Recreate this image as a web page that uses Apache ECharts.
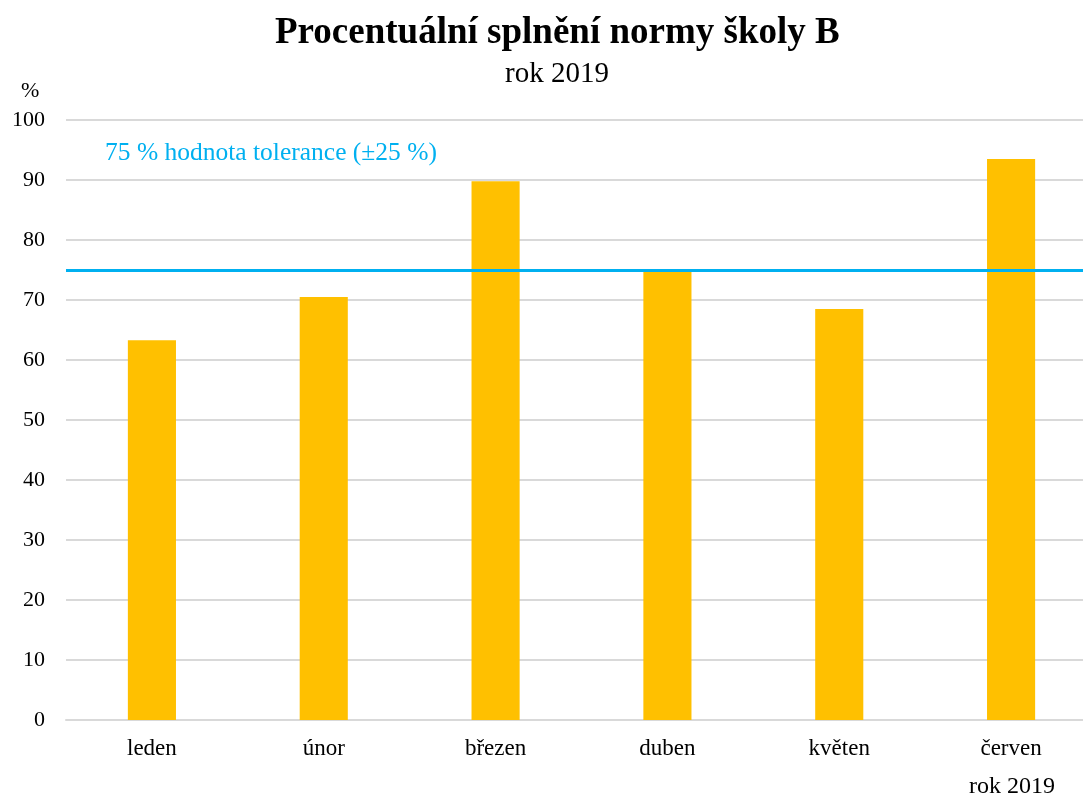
<!DOCTYPE html>
<html><head><meta charset="utf-8">
<script src="https://cdn.jsdelivr.net/npm/echarts@6/dist/echarts.min.js"></script>
<style>html,body{margin:0;padding:0;background:#fff}#c{width:1083px;height:798px}</style>
</head><body><div id="c"></div>
<script>
const categories = ['leden','únor','březen','duben','květen','červen'];
const values = [63.3, 70.5, 89.8, 74.8, 68.5, 93.5];
const tolerance = 75;
const toleranceLabel = '75 % hodnota tolerance (±25 %)';
const yTicks = {min:0, max:100, interval:10};

const font = 'Liberation Serif, Times New Roman, serif';
const chart = echarts.init(document.getElementById('c'));
chart.setOption({
  animation:false,
  title:[{text:'Procentuální splnění normy školy B', left:270, top:10,
    textStyle:{fontFamily:font, fontSize:37, fontWeight:'bold', color:'#000'}},
    {text:'rok 2019', left:500, top:55, textStyle:{fontFamily:font, fontSize:29, fontWeight:'normal', color:'#000'}}],
  graphic:[{type:'text', left:105, top:140, style:{text:toleranceLabel, fill:'#00B0F0', font:'25.5px '+font}},
           {type:'text', left:21, top:80, style:{text:'%', fill:'#000', font:'22px '+font}}],
  grid:{left:66, width:1031, top:120, bottom:78, outerBoundsMode:'none', containLabel:false},
  xAxis:{type:'category', data:categories, name:'rok 2019', nameLocation:'end',
    nameGap:0,
    nameTextStyle:{fontFamily:font, fontSize:24, color:'#000', align:'right', verticalAlign:'top', padding:[55,42,0,0]},
    axisLine:{lineStyle:{color:'#d9d9d9', width:2}}, axisTick:{show:false},
    axisLabel:{fontFamily:font, fontSize:23, color:'#000', margin:17}},
  yAxis:{type:'value', min:yTicks.min, max:yTicks.max, interval:yTicks.interval,
    axisLine:{show:false}, axisTick:{show:false},
    axisLabel:{fontFamily:font, fontSize:22, color:'#000', margin:21},
    splitLine:{lineStyle:{color:'#d9d9d9', width:2}}},
  series:[{type:'bar', data:values, barWidth:'28%', itemStyle:{color:'#FFC000'},
    markLine:{symbol:'none', silent:true, label:{show:false},
      lineStyle:{color:'#00B0F0', width:3, type:'solid'},
      data:[{yAxis:tolerance}]}}]
});
</script></body></html>
